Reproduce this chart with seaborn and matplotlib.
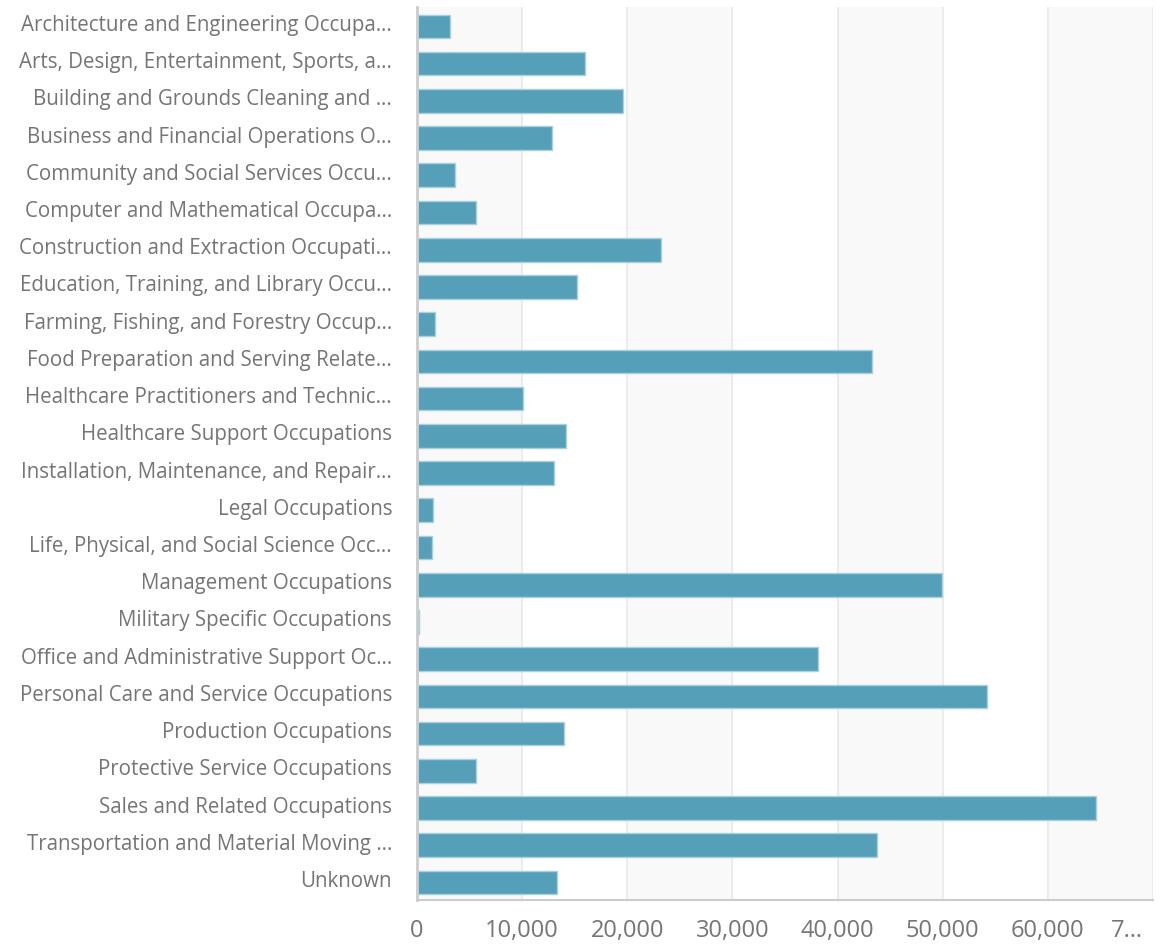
import matplotlib
matplotlib.use("Agg")
import matplotlib.pyplot as plt
import matplotlib.transforms as mtransforms
import seaborn as sns
import pandas as pd

categories = [
    "Architecture and Engineering Occupa…",
    "Arts, Design, Entertainment, Sports, a…",
    "Building and Grounds Cleaning and …",
    "Business and Financial Operations O…",
    "Community and Social Services Occu…",
    "Computer and Mathematical Occupa…",
    "Construction and Extraction Occupati…",
    "Education, Training, and Library Occu…",
    "Farming, Fishing, and Forestry Occup…",
    "Food Preparation and Serving Relate…",
    "Healthcare Practitioners and Technic…",
    "Healthcare Support Occupations",
    "Installation, Maintenance, and Repair…",
    "Legal Occupations",
    "Life, Physical, and Social Science Occ…",
    "Management Occupations",
    "Military Specific Occupations",
    "Office and Administrative Support Oc…",
    "Personal Care and Service Occupations",
    "Production Occupations",
    "Protective Service Occupations",
    "Sales and Related Occupations",
    "Transportation and Material Moving …",
    "Unknown",
]
values = [
    3170, 15990, 19600, 12880, 3650, 5650, 23220, 15190, 1710, 43230,
    10090, 14180, 13040, 1520, 1400, 49950, 200, 38150, 54230, 14020,
    5640, 64540, 43740, 13320,
]
x_ticks = [0, 10000, 20000, 30000, 40000, 50000, 60000, 70000]
x_tick_labels = ["0", "10,000", "20,000", "30,000", "40,000", "50,000", "60,000", "7…"]

sns.set_theme(style="white")
plt.rcParams["font.family"] = ["Open Sans", "DejaVu Sans"]

fig = plt.figure(figsize=(11.66, 9.52), dpi=100)
ax = fig.add_axes([417 / 1166, 1 - 900 / 952, (1153 - 417) / 1166, (900 - 7) / 952])

df = pd.DataFrame({"category": categories, "value": values})

# alternating background bands + grid
for i in range(len(x_ticks) - 1):
    if i % 2 == 0:
        ax.axvspan(x_ticks[i], x_ticks[i + 1], color="#f9f9f9", zorder=0, lw=0)
for t in x_ticks[1:]:
    ax.axvline(t, color="#ececec", lw=1.5, zorder=0.5)

sns.barplot(data=df, x="value", y="category", orient="h", color="#55a0b8",
            width=0.635, edgecolor="#a9d0dc", linewidth=1.0, saturation=1,
            ax=ax, zorder=2)

ax.set_xlim(0, 70000)
ax.set_ylim(23.47, -0.52)
ax.set_xticks(x_ticks)
ax.set_xticklabels(x_tick_labels)
ax.set_xlabel("")
ax.set_ylabel("")
ax.tick_params(axis="y", length=0, pad=18, labelsize=14.8, labelcolor="#757575")
ax.tick_params(axis="x", length=0, pad=14, labelsize=17, labelcolor="#757575")

offset = mtransforms.ScaledTranslation(0, 2.5 / 72, fig.dpi_scale_trans)
for lab in ax.get_yticklabels():
    lab.set_transform(lab.get_transform() + offset)

# last (truncated) x label is pushed inside the figure, as in the reference
last = ax.get_xticklabels()[-1]
last.set_transform(last.get_transform() +
                   mtransforms.ScaledTranslation(-26 / 100, 0, fig.dpi_scale_trans))

for s in ["top", "right"]:
    ax.spines[s].set_visible(False)
ax.spines["left"].set_color("#cccccc")
ax.spines["left"].set_linewidth(2)
ax.spines["bottom"].set_color("#cccccc")
ax.spines["bottom"].set_linewidth(1.5)
ax.set_facecolor("white")

fig.savefig("out.png", dpi=100, facecolor="white")
